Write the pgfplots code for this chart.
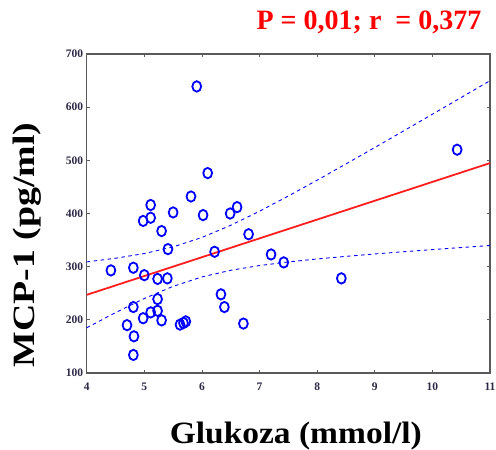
\documentclass[border=0pt]{standalone}
\usepackage{fontspec}
\setmainfont{Liberation Serif}
\usepackage{pgfplots}
\pgfplotsset{compat=1.18}
\definecolor{tickcol}{RGB}{45,40,70}
\definecolor{axcol}{RGB}{90,90,90}
\definecolor{regred}{RGB}{255,30,30}
\begin{document}
\begin{tikzpicture}
\path[use as bounding box] (-86.7bp,-77bp) rectangle (409.3bp,373bp);
\begin{axis}[
  at={(0,0)}, anchor=south west,
  scale only axis, width=403.3bp, height=319bp,
  xmin=4, xmax=11, ymin=100, ymax=700,
  xtick={4,5,6,7,8,9,10,11},
  ytick={100,200,300,400,500,600,700},
  tick align=inside, tick pos=both,
  major tick length=3bp,
  axis line style={axcol, line width=1.2bp},
  tick style={axcol, line width=0.8bp},
  /pgf/number format/assume math mode=true,
  ticklabel style={font=\fontsize{11.5bp}{12bp}\selectfont\bfseries, text=tickcol},
  xticklabel style={yshift=-6bp},
  clip=false,
]
\addplot[only marks, mark=o, mark size=5.2bp, mark options={xscale=0.85, line width=1.8bp}, color=blue] coordinates {
(5.91,639) (10.43,520) (6.10,476) (5.81,432) (5.11,416) (5.11,392) (4.98,386)
(5.50,402) (6.02,397) (6.49,400) (6.61,412) (5.30,367) (6.81,361) (5.41,333)
(6.22,328) (7.20,323) (7.42,308) (4.42,293) (4.81,298) (5.00,284) (5.23,277)
(5.40,278) (8.42,278) (5.23,239) (6.33,248) (6.39,224) (4.81,224) (5.11,214)
(5.23,217) (4.98,203) (5.30,199) (4.70,190) (4.82,169) (4.81,134) (5.62,191)
(5.68,194) (5.72,197) (6.72,193)
};
\addplot[regred, line width=1.8bp] coordinates {(4,247) (11,494.8)};
\addplot[blue, line width=0.9bp, dash pattern=on 3.5bp off 3.5bp] coordinates {
(4,309) (4.5,315.8) (5,324.7) (5.5,337.2) (6,354.9) (6.5,377.8) (7,404.3) (7.5,432.9)
(8,462.7) (8.5,493.2) (9,524.1) (9.5,555.3) (10,586.7) (10.5,618.2) (11,649.8)
};
\addplot[blue, line width=0.9bp, dash pattern=on 3.5bp off 3.5bp] coordinates {
(4,185) (4.5,213.6) (5,240.1) (5.5,263) (6,280.7) (6.5,293.2) (7,302.1) (7.5,308.9)
(8,314.5) (8.5,319.4) (9,323.9) (9.5,328.1) (10,332.1) (10.5,336.0) (11,339.8)
};
\end{axis}
\node[anchor=base, inner sep=0, text=red, font=\fontsize{28bp}{30bp}\selectfont\bfseries] at (282.3bp,343.5bp) {P = 0,01; r~~= 0,377};
\node[anchor=base, inner sep=0, font=\fontsize{31bp}{33bp}\selectfont\bfseries] at (209.1bp,-70bp) {\scalebox{1.08}[1]{Glukoza (mmol/l)}};
\node[anchor=center, inner sep=0, rotate=90, font=\fontsize{31bp}{33bp}\selectfont\bfseries] at (-59.7bp,128bp) {\scalebox{1.22}[1]{MCP-1 (pg/ml)}};
\end{tikzpicture}
\end{document}
